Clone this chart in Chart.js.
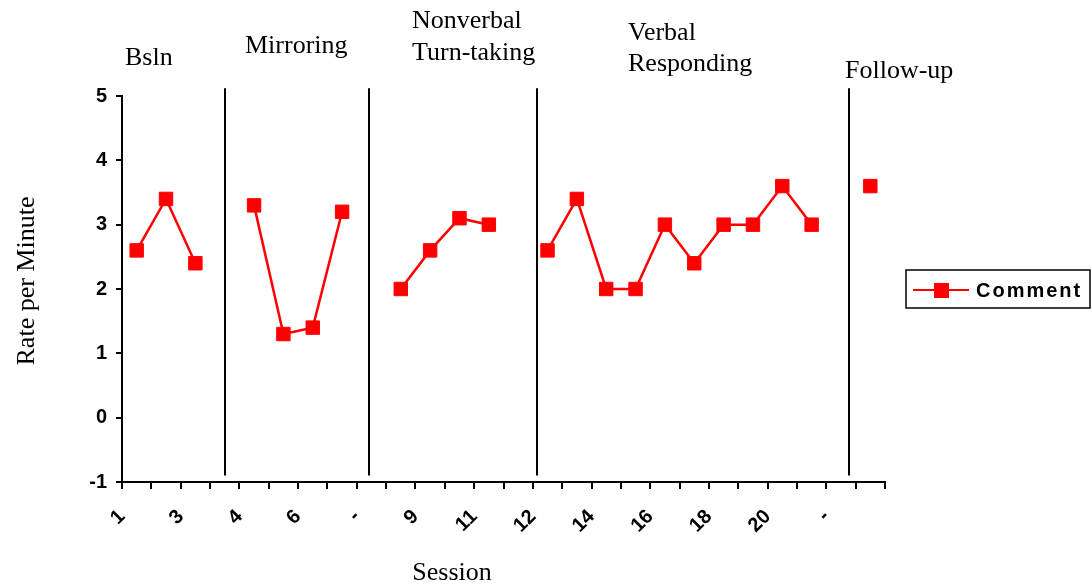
<!DOCTYPE html>
<html>
<head>
<meta charset="utf-8">
<script src="https://cdn.jsdelivr.net/npm/chart.js@4.4.0/dist/chart.umd.min.js"></script>
<style>
  body { margin: 0; background: #fff; }
</style>
</head>
<body>
<canvas id="rateChart" width="1092" height="586"></canvas>
<script>
////////////////////////////// data
// one slot per session, "-" = empty slot between phases
const sessionLabels = ["1", "2", "3", "-", "4", "5", "6", "7", "-", "8", "9", "10", "11", "-",
  "12", "13", "14", "15", "16", "17", "18", "19", "20", "21", "-", "22"];
// comments per minute, null where there is no session
const commentRates = [2.6, 3.4, 2.4, null, 3.3, 1.3, 1.4, 3.2, null, 2.0, 2.6, 3.1, 3.0, null,
  2.6, 3.4, 2.0, 2.0, 3.0, 2.4, 3.0, 3.0, 3.6, 3.0, null, 3.6];
const phaseNames = [["Bsln"], ["Mirroring"], ["Nonverbal", "Turn-taking"], ["Verbal", "Responding"], ["Follow-up"]];
// phase change lines, in session slots
const phaseLines = [3.5, 8.42, 14.14, 24.77];
const yMin = -1;
const yMax = 5;

////////////////////////////// layout of the extra texts (pixels)
const phaseTextPos = [[125, [65]], [245, [53]], [412, [28, 60]], [628, [40, 71]], [845, [78]]];

const serif = "'Liberation Serif', 'Times New Roman', serif";
const sans = "'Liberation Sans', Arial, sans-serif";

// lines, phase titles, axis titles and the boxed legend
const decorPlugin = {
  id: "decor",
  afterDatasetsDraw(chart) {
    const ctx = chart.ctx;
    const x = chart.scales.x;
    const y = chart.scales.y;

    ctx.save();
    ctx.strokeStyle = "#000";
    ctx.lineWidth = 2;
    phaseLines.forEach(v => {
      const px = Math.round(x.getPixelForValue(v));
      ctx.beginPath();
      ctx.moveTo(px, y.getPixelForValue(5.12));
      ctx.lineTo(px, y.getPixelForValue(-0.9));
      ctx.stroke();
    });

    ctx.fillStyle = "#000";
    ctx.font = "26px " + serif;
    ctx.textAlign = "left";
    ctx.textBaseline = "alphabetic";
    phaseNames.forEach((lines, i) => {
      const pos = phaseTextPos[i];
      lines.forEach((t, j) => ctx.fillText(t, pos[0], pos[1][j]));
    });

    // axis titles
    ctx.textAlign = "center";
    ctx.fillText("Session", 452, 580);
    ctx.save();
    ctx.translate(27, 281);
    ctx.rotate(-Math.PI / 2);
    ctx.textBaseline = "middle";
    ctx.fillText("Rate per Minute", 0, 0);
    ctx.restore();

    // legend
    const ds = chart.data.datasets[0];
    ctx.lineWidth = 1.5;
    ctx.strokeStyle = "#000";
    ctx.strokeRect(906, 270, 184, 38);
    ctx.strokeStyle = ds.borderColor;
    ctx.lineWidth = 2;
    ctx.beginPath();
    ctx.moveTo(913, 290);
    ctx.lineTo(969, 290);
    ctx.stroke();
    ctx.fillStyle = ds.pointBackgroundColor;
    ctx.fillRect(934, 283, 15, 15);
    ctx.fillStyle = "#000";
    ctx.font = "bold 20px " + sans;
    ctx.letterSpacing = "2px";
    ctx.textAlign = "left";
    ctx.textBaseline = "middle";
    ctx.fillText(ds.label, 976, 291);
    ctx.restore();
  }
};

////////////////////////////// chart
const ctxRate = document.getElementById("rateChart").getContext("2d");

const rateChart = new Chart(ctxRate, {
  type: "line",
  data: {
    datasets: [{
      label: "Comment",
      data: commentRates.map((r, i) => ({ x: i + 0.5, y: r })),
      borderColor: "#ff0000",
      borderWidth: 2.5,
      pointStyle: "rect",
      pointRadius: 9.5,
      pointBackgroundColor: "#ff0000",
      pointBorderColor: "#ff0000",
      pointBorderWidth: 1,
      spanGaps: false,
      tension: 0
    }]
  },
  options: {
    responsive: false,
    animation: false,
    layout: { padding: { top: 96, right: 207, bottom: 0, left: 0 } },
    scales: {
      x: {
        type: "linear",
        min: 0,
        max: sessionLabels.length,
        afterFit: s => { s.height = 104; },
        grid: { drawOnChartArea: false, color: "#000", lineWidth: 2, tickLength: 7 },
        border: { color: "#000", width: 2 },
        ticks: {
          stepSize: 1,
          autoSkip: false,
          maxTicksLimit: 100,
          minRotation: 45,
          maxRotation: 45,
          padding: 16,
          color: "#000",
          font: { family: sans, size: 20, weight: "bold" },
          callback: v => (v % 2 === 0 && sessionLabels[v] !== undefined) ? sessionLabels[v] : ""
        }
      },
      y: {
        min: yMin,
        max: yMax,
        afterFit: s => { s.width = 122; },
        grid: { drawOnChartArea: false, color: "#000", lineWidth: 2, tickLength: 6 },
        border: { color: "#000", width: 2 },
        ticks: {
          stepSize: 1,
          padding: 9,
          color: "#000",
          font: { family: sans, size: 20, weight: "bold" }
        }
      }
    },
    plugins: {
      legend: { display: false },
      tooltip: { enabled: false }
    }
  },
  plugins: [decorPlugin]
});
</script>
</body>
</html>
